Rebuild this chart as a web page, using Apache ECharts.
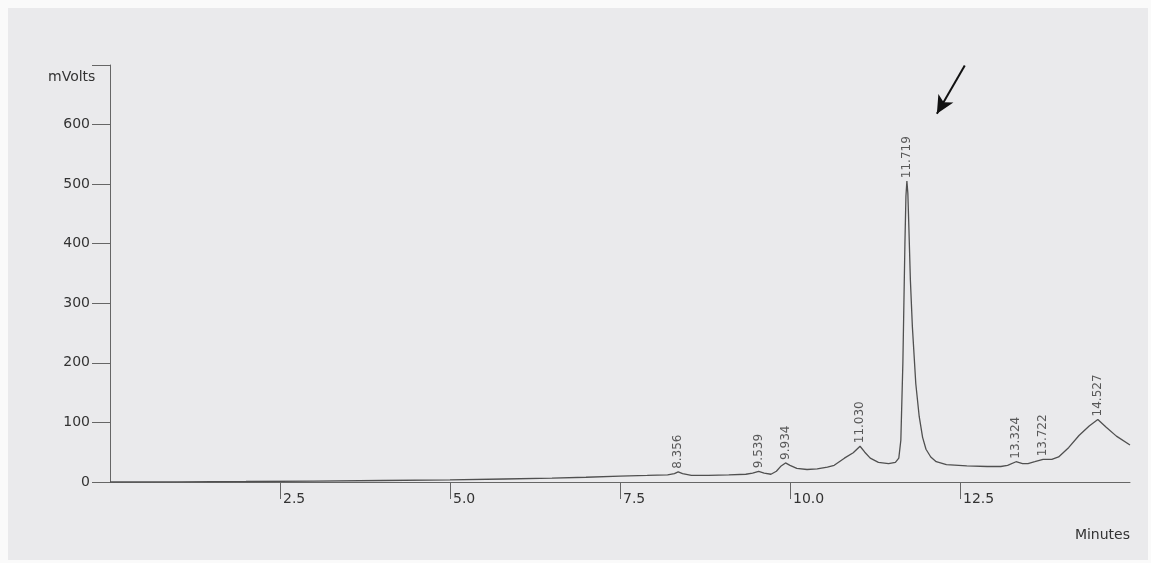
<!DOCTYPE html>
<html>
<head>
<meta charset="utf-8">
<script src="https://cdn.jsdelivr.net/npm/echarts@6/dist/echarts.min.js"></script>
<style>
  html, body { margin: 0; padding: 0; background: #fafafa; }
  #chroma { position: absolute; left: 8px; top: 8px; width: 1140px; height: 552px; background: #eaeaec; }
</style>
</head>
<body>
<div id="chroma"></div>
<script>
// retention time (min) and detector signal (mVolts)
var timeMin = [0.0, 1.0, 2.0, 3.0, 4.0, 5.0, 5.8, 6.5, 7.0, 7.5, 7.9, 8.2, 8.3, 8.356, 8.42, 8.55, 8.8,
	9.1, 9.35, 9.45, 9.539, 9.62, 9.72, 9.8, 9.87, 9.934, 10.0, 10.1, 10.25, 10.4, 10.55, 10.65, 10.8,
	10.93, 11.03, 11.1, 11.18, 11.3, 11.45, 11.55, 11.6, 11.63, 11.66, 11.69, 11.705, 11.719, 11.733, 11.75, 11.77,
	11.8, 11.85, 11.9, 11.95, 12.0, 12.07, 12.15, 12.3, 12.6, 12.9, 13.1, 13.2, 13.324, 13.42, 13.5,
	13.6, 13.722, 13.85, 13.95, 14.1, 14.25, 14.4, 14.527, 14.65, 14.8, 15.0];
var signalMv = [0, 0.3, 0.8, 1.5, 2.5, 3.5, 5, 6.5, 8, 10, 11, 12, 14, 17, 14, 11, 11,
	12, 13, 15, 18, 15, 13, 18, 27, 32, 28, 23, 21, 22, 25, 28, 40,
	49, 60, 50, 40, 33, 31, 33, 40, 70, 200, 400, 480, 505, 485, 420, 340,
	260, 165, 110, 75, 55, 42, 34, 29, 27, 26, 26, 28, 34, 31, 31,
	34, 38, 38, 42, 58, 78, 94, 105, 92, 77, 62];

// integrated peaks
var peakTimes = [8.356, 9.539, 9.934, 11.030, 11.719, 13.324, 13.722, 14.527];
var peakMv = [17, 18, 32, 60, 505, 34, 38, 105];

var xTicks = [0, 2.5, 5.0, 7.5, 10.0, 12.5, 15.0];

var trace = timeMin.map(function (t, i) { return [t, signalMv[i]]; });
var peaks = peakTimes.map(function (t, i) { return [t, peakMv[i]]; });

var myChart = echarts.init(document.getElementById('chroma'));
var fontFam = '"DejaVu Sans", Verdana, sans-serif';

var option = {
	animation: false,
	backgroundColor: '#eaeaec',
	grid: { left: 102, right: 18, top: 57, bottom: 78 },
	xAxis: {
		type: 'value',
		min: xTicks[0],
		max: xTicks[xTicks.length - 1],
		interval: 2.5,
		splitLine: { show: false },
		axisLine: { onZero: false, lineStyle: { color: '#666', width: 1 } },
		axisTick: { show: true, length: 17, lineStyle: { color: '#666' } },
		axisLabel: {
			showMinLabel: false,
			showMaxLabel: false,
			align: 'left',
			margin: 10,
			padding: [0, 0, 0, 3],
			color: '#333',
			fontFamily: fontFam,
			fontSize: 14,
			formatter: function (v) { return v.toFixed(1); }
		}
	},
	yAxis: {
		type: 'value',
		min: 0,
		max: 700,
		interval: 100,
		splitLine: { show: false },
		axisLine: { show: true, lineStyle: { color: '#666', width: 1 } },
		axisTick: { show: true, length: 18, lineStyle: { color: '#666' } },
		axisLabel: {
			margin: 20,
			color: '#333',
			fontFamily: fontFam,
			fontSize: 14,
			formatter: function (v) { return v > 600 ? '' : String(v); }
		}
	},
	graphic: [
		{ type: 'text', left: 40, top: 62, style: { text: 'mVolts', fill: '#333', font: '14px ' + fontFam } },
		{ type: 'text', right: 18, top: 520, style: { text: 'Minutes', fill: '#333', font: '14px ' + fontFam } }
	],
	series: [
		{
			name: 'signal',
			type: 'line',
			data: trace,
			showSymbol: false,
			smooth: false,
			lineStyle: { color: '#505050', width: 1.3 },
			z: 3
		},
		{
			name: 'peaks',
			type: 'scatter',
			data: peaks,
			symbolSize: 0,
			label: {
				show: true,
				position: 'top',
				distance: 3,
				rotate: 90,
				align: 'left',
				verticalAlign: 'middle',
				color: '#333',
				fontFamily: fontFam,
				fontSize: 12,
				formatter: function (p) { return p.value[0].toFixed(3); }
			},
			markLine: {
				silent: true,
				symbol: ['none', 'arrow'],
				symbolSize: [13, 18],
				label: { show: false },
				lineStyle: { color: '#111', width: 2, type: 'solid' },
				data: [[{ coord: [12.57, 699] }, { coord: [12.16, 618] }]]
			},
			z: 4
		}
	]
};

myChart.setOption(option);
</script>
</body>
</html>
